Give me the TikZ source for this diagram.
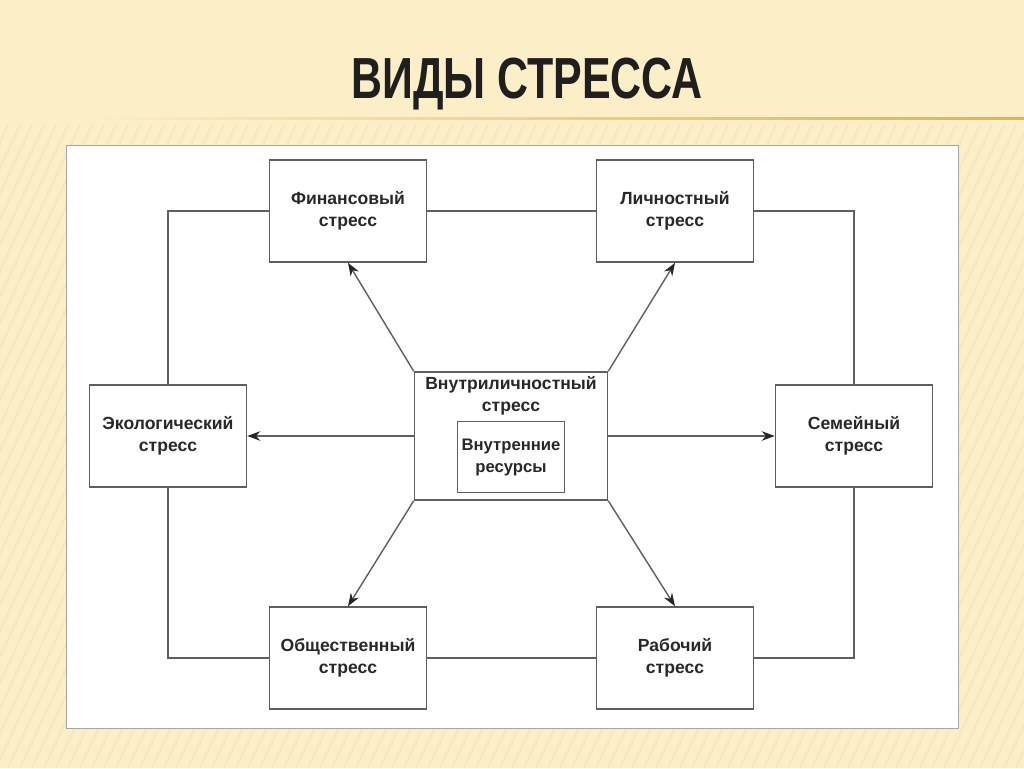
\documentclass[tikz,border=0pt]{standalone}
\usepackage{fontspec}
\setmainfont{Liberation Sans}
\usepackage{tikz}
\usetikzlibrary{arrows.meta, positioning}

\definecolor{slidebg}{RGB}{252,239,200}
\definecolor{stripe}{RGB}{240,222,170}
\definecolor{rulegold}{RGB}{226,178,76}
\definecolor{boxline}{RGB}{95,95,95}
\definecolor{boxtext}{RGB}{40,40,40}

\begin{document}
\begin{tikzpicture}[
        x=0.02cm, y=-0.02cm,
        kind/.style={rectangle, draw=boxline, line width=0.9pt, fill=white, align=center,
            minimum width=3.14cm, minimum height=2.04cm, text=boxtext,
            font=\fontsize{10}{12.5}\selectfont\bfseries},
        label/.style={align=center, text=boxtext, font=\fontsize{10}{12.5}\selectfont\bfseries},
        frame/.style={draw=boxline, line width=0.9pt},
        arrow/.style={-{Stealth[length=2.6mm, width=1.9mm, color=black!85]}, draw=boxline, line width=0.8pt}
    ]
        \useasboundingbox (0,0) rectangle (1024,768);
        \fill[slidebg] (0,0) rectangle (1024,768);
        % faint stripes of the slide
        \begin{scope}
            \clip (0,125) rectangle (1024,768);
            \foreach \s in {-400,-388,...,1024}
                \draw[stripe, line width=1.2pt, opacity=0.4] (\s,768) -- (\s+300,125);
        \end{scope}

        \node[font=\fontsize{33}{36}\selectfont\bfseries, text=black!88, xscale=0.74] (Title) at (527,84) {ВИДЫ СТРЕССА};
        \shade[left color=slidebg, right color=rulegold] (70,117) rectangle (1024,119);

        \draw[black!35, fill=white] (66,145) rectangle (958,728);

        \node[kind] (Fin) at (348,211) {Финансовый\\стресс};
        \node[kind] (Lich) at (675,211) {Личностный\\стресс};
        \node[kind] (Eko) at (168,436) {Экологический\\стресс};
        \node[kind] (Sem) at (854,436) {Семейный\\стресс};
        \node[kind] (Obsh) at (348,658) {Общественный\\стресс};
        \node[kind] (Rab) at (675,658) {Рабочий\\стресс};

        \node[kind, minimum width=3.86cm, minimum height=2.56cm] (Vnutr) at (511,436) {};
        \node[label] (VnutrText) at (511,396) {Внутриличностный\\стресс};
        \node[kind, minimum width=2.14cm, minimum height=1.42cm, inner sep=1pt, line width=0.8pt,
            font=\fontsize{9.5}{12.5}\selectfont\bfseries] (Resursy) at (511,457) {Внутренние\\ресурсы};

        \draw[frame] (Eko) |- (Fin);
        \draw[frame] (Fin) -- (Lich);
        \draw[frame] (Lich) -| (Sem);
        \draw[frame] (Sem) |- (Rab);
        \draw[frame] (Rab) -- (Obsh);
        \draw[frame] (Obsh) -| (Eko);

        \draw[arrow] (Vnutr.north west) -- (Fin.south);
        \draw[arrow] (Vnutr.north east) -- (Lich.south);
        \draw[arrow] (Vnutr.west) -- (Eko.east);
        \draw[arrow] (Vnutr.east) -- (Sem.west);
        \draw[arrow] (Vnutr.south west) -- (Obsh.north);
        \draw[arrow] (Vnutr.south east) -- (Rab.north);
    \end{tikzpicture}
\end{document}
